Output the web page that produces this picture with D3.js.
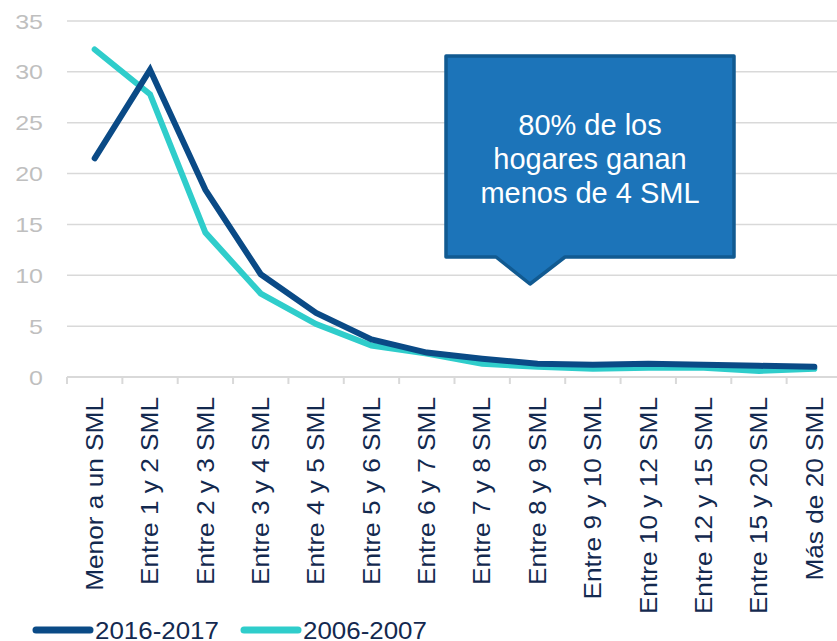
<!DOCTYPE html>
<meta charset="utf-8">
<style>

body {
  margin: 0;
  background: #fff;
}

svg {
  font-family: "Liberation Sans", Arial, sans-serif;
  display: block;
}

.grid line {
  stroke: #d9d9d9;
  stroke-width: 1.5;
}

.y.axis text {
  fill: #bfbfbf;
  font-size: 21px;
}

.x.axis text {
  fill: #13294f;
  font-size: 23px;
}

.x.axis line {
  stroke: #d9d9d9;
  stroke-width: 2;
}

.series {
  fill: none;
  stroke-width: 6;
  stroke-linecap: round;
}

.legend text {
  fill: #13294f;
  font-size: 24px;
}

</style>
<body>
<script src="https://cdn.jsdelivr.net/npm/d3@7"></script>
<script>

var width = 837,
    height = 641;

var categories = ["Menor a un SML", "Entre 1 y 2 SML", "Entre 2 y 3 SML", "Entre 3 y 4 SML",
  "Entre 4 y 5 SML", "Entre 5 y 6 SML", "Entre 6 y 7 SML", "Entre 7 y 8 SML",
  "Entre 8 y 9 SML", "Entre 9 y 10 SML", "Entre 10 y 12 SML", "Entre 12 y 15 SML",
  "Entre 15 y 20 SML", "Más de 20 SML"];

var values2016 = [21.5, 30.2, 18.4, 10.1, 6.3, 3.7, 2.4, 1.8, 1.3, 1.2, 1.3, 1.2, 1.1, 1.0];
var values2006 = [32.2, 27.8, 14.2, 8.2, 5.2, 3.1, 2.3, 1.3, 1.0, 0.8, 0.9, 0.9, 0.6, 0.8];

var seriesNames = ["2016-2017", "2006-2007"];
var seriesColors = ["#0a4a86", "#2fcdcb"];

var yTicks = [0, 5, 10, 15, 20, 25, 30, 35];

var calloutLines = ["80% de los", "hogares ganan", "menos de 4 SML"];

var plotLeft = 67, plotRight = 842, plotTop = 21, plotBottom = 377;

var x = d3.scaleBand()
    .domain(categories)
    .range([plotLeft, plotRight]);

var y = d3.scaleLinear()
    .domain([0, 35])
    .range([plotBottom, plotTop]);

var svg = d3.select("body").append("svg")
    .attr("width", width)
    .attr("height", height);

// gridlines
svg.append("g")
    .attr("class", "grid")
  .selectAll("line")
    .data(yTicks.filter(function(d) { return d > 0; }))
  .enter().append("line")
    .attr("x1", plotLeft)
    .attr("x2", width)
    .attr("y1", function(d) { return y(d); })
    .attr("y2", function(d) { return y(d); });

// y labels (source text looks stretched sideways)
svg.append("g")
    .attr("class", "y axis")
  .selectAll("text")
    .data(yTicks)
  .enter().append("text")
    .attr("transform", function(d) { return "translate(43," + y(d) + ") scale(1.19,1)"; })
    .attr("dy", ".36em")
    .attr("text-anchor", "end")
    .text(function(d) { return d; });

// x axis
var xg = svg.append("g")
    .attr("class", "x axis");

xg.append("line")
    .attr("x1", plotLeft)
    .attr("x2", width)
    .attr("y1", plotBottom)
    .attr("y2", plotBottom);

xg.selectAll(".tick")
    .data(categories)
  .enter().append("line")
    .attr("class", "tick")
    .attr("x1", function(d) { return x(d); })
    .attr("x2", function(d) { return x(d); })
    .attr("y1", plotBottom)
    .attr("y2", plotBottom + 7);

xg.selectAll("text")
    .data(categories)
  .enter().append("text")
    .attr("transform", function(d) {
      return "translate(" + (x(d) + x.bandwidth() / 2) + "," + (plotBottom + 20) + ") rotate(-90) scale(1.14,1)"; })
    .attr("dy", ".36em")
    .attr("text-anchor", "end")
    .text(function(d) { return d; });

// lines
var line = d3.line()
    .x(function(d, i) { return x(categories[i]) + x.bandwidth() / 2; })
    .y(function(d) { return y(d); });

svg.selectAll(".series")
    .data([values2006, values2016])
  .enter().append("path")
    .attr("class", "series")
    .attr("d", line)
    .style("stroke", function(d, i) { return seriesColors[1 - i]; });

// callout
var bx0 = 446, bx1 = 734, by0 = 56, by1 = 257,
    px0 = 496, px1 = 565, tipX = 530, tipY = 284;

svg.append("path")
    .attr("d", "M" + bx0 + "," + by0 + "H" + bx1 + "V" + by1 + "H" + px1 +
      "L" + tipX + "," + tipY + "L" + px0 + "," + by1 + "H" + bx0 + "Z")
    .style("fill", "#1c74b9")
    .style("stroke", "#115a91")
    .style("stroke-width", 3.5)
    .style("stroke-linejoin", "round");

svg.append("g")
  .selectAll("text")
    .data(calloutLines)
  .enter().append("text")
    .attr("x", 590)
    .attr("y", function(d, i) { return 125 + i * 34; })
    .attr("dy", ".36em")
    .attr("text-anchor", "middle")
    .style("fill", "#fff")
    .style("font-size", "29px")
    .text(function(d) { return d; });

// legend
var legend = svg.append("g")
    .attr("class", "legend")
  .selectAll("g")
    .data(seriesNames)
  .enter().append("g")
    .attr("transform", function(d, i) { return "translate(" + (i === 0 ? 36 : 244) + ",630)"; });

legend.append("line")
    .attr("x1", 0)
    .attr("x2", 54)
    .style("stroke", function(d, i) { return seriesColors[i]; })
    .style("stroke-width", 7)
    .style("stroke-linecap", "round");

legend.append("text")
    .attr("transform", "translate(59,0) scale(1.08,1)")
    .attr("dy", ".36em")
    .text(function(d) { return d; });

</script>
